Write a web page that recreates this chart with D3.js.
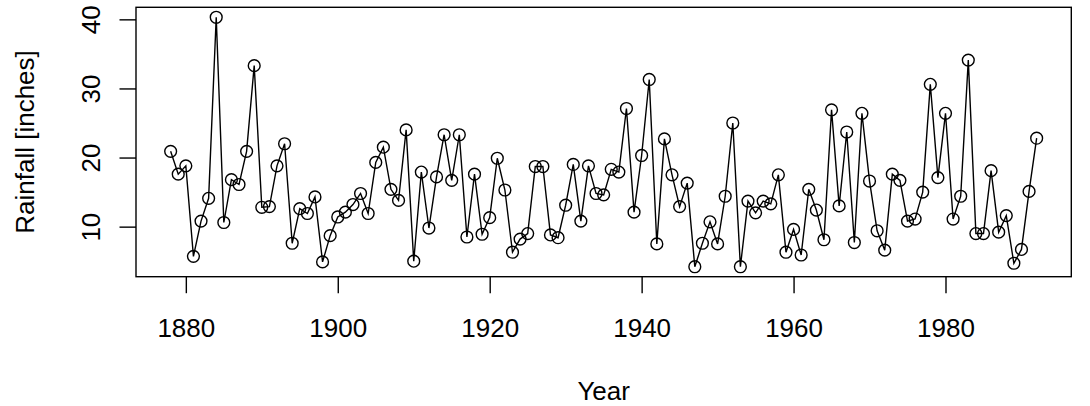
<!DOCTYPE html>
<html>
<head>
<meta charset="utf-8">
<script src="https://cdn.jsdelivr.net/npm/d3@7"></script>
<style>
  html, body { margin: 0; padding: 0; background: #fff; }
  svg { display: block; }
  text { font-family: "Liberation Sans", Arial, sans-serif; fill: #000; }
</style>
</head>
<body>
<script>
// ---- data ----
const startYear = 1878;
const rainfall = [
  20.9, 17.6, 18.8, 5.7, 10.8, 14.1, 40.3, 10.6, 16.8, 16.1,
  20.9, 33.3, 12.8, 12.9, 18.8, 22.0, 7.6, 12.6, 11.9, 14.3,
  4.9, 8.7, 11.4, 12.1, 13.2, 14.8, 11.9, 19.3, 21.5, 15.4,
  13.8, 24.0, 5.0, 17.9, 9.8, 17.2, 23.3, 16.7, 23.3, 8.5,
  17.6, 8.9, 11.3, 19.9, 15.3, 6.3, 8.2, 9.0, 18.7, 18.7,
  8.8, 8.4, 13.1, 19.0, 10.8, 18.8, 14.8, 14.6, 18.3, 17.9,
  27.1, 12.1, 20.3, 31.3, 7.5, 22.7, 17.5, 12.9, 16.3, 4.2,
  7.6, 10.7, 7.5, 14.4, 25.0, 4.2, 13.7, 12.0, 13.7, 13.3,
  17.5, 6.3, 9.6, 5.9, 15.4, 12.4, 8.1, 26.9, 13.0, 23.7,
  7.7, 26.4, 16.6, 9.4, 6.6, 17.6, 16.7, 10.8, 11.1, 15.0,
  30.6, 17.1, 26.4, 11.1, 14.4, 34.1, 9.0, 9.0, 18.1, 9.2,
  11.6, 4.7, 6.7, 15.1, 22.8
];
const years = d3.range(startYear, startYear + rainfall.length);
const xTicks = [1880, 1900, 1920, 1940, 1960, 1980];
const yTicks = [10, 20, 30, 40];
const xLabel = "Year";
const yLabel = "Rainfall [inches]";

// ---- layout ----
const W = 1090, H = 406;
const mLeft = 136, mRight = 1071.3, mTop = 7.3, mBottom = 276.7;
const fontSize = 26;

const svg = d3.select("body").append("svg")
  .attr("width", W).attr("height", H);

function padExtent(ext) {
  const p = (ext[1] - ext[0]) * 0.04;
  return [ext[0] - p, ext[1] + p];
}

const x = d3.scaleLinear().domain(padExtent(d3.extent(years))).range([mLeft, mRight]);
const y = d3.scaleLinear().domain(padExtent(d3.extent(rainfall))).range([mBottom, mTop]);

const data = years.map((yr, i) => ({ year: yr, value: rainfall[i] }));

// line
svg.append("path")
  .datum(data)
  .attr("fill", "none")
  .attr("stroke", "#000")
  .attr("stroke-width", 1.4)
  .attr("d", d3.line().x(d => x(d.year)).y(d => y(d.value)));

// points
svg.append("g").selectAll("circle")
  .data(data).join("circle")
  .attr("cx", d => x(d.year))
  .attr("cy", d => y(d.value))
  .attr("r", 5.9)
  .attr("fill", "none")
  .attr("stroke", "#000")
  .attr("stroke-width", 1.4);

// box
svg.append("rect")
  .attr("x", mLeft).attr("y", mTop)
  .attr("width", mRight - mLeft).attr("height", mBottom - mTop)
  .attr("fill", "none").attr("stroke", "#000").attr("stroke-width", 1.4);

// x axis
const gx = svg.append("g")
  .attr("transform", `translate(0,${mBottom})`)
  .call(d3.axisBottom(x).tickValues(xTicks).tickFormat(d3.format("d")).tickSize(16.5));
gx.select(".domain").remove();
gx.selectAll(".tick line").attr("stroke", "#000").attr("stroke-width", 1.4);
gx.selectAll(".tick text")
  .attr("y", 60).attr("dy", 0)
  .style("font-size", fontSize + "px")
  .style("font-family", '"Liberation Sans", Arial, sans-serif')
  .attr("fill", "#000");

// y axis
const gy = svg.append("g")
  .attr("transform", `translate(${mLeft},0)`)
  .call(d3.axisLeft(y).tickValues(yTicks).tickSize(16.5));
gy.select(".domain").remove();
gy.selectAll(".tick line").attr("stroke", "#000").attr("stroke-width", 1.4);
gy.selectAll(".tick text")
  .attr("x", 0).attr("dy", 0)
  .attr("text-anchor", "middle")
  .attr("transform", "translate(-36,0) rotate(-90)")
  .style("font-size", fontSize + "px")
  .style("font-family", '"Liberation Sans", Arial, sans-serif')
  .attr("fill", "#000");

// axis titles
svg.append("text")
  .attr("x", (mLeft + mRight) / 2).attr("y", 399.5)
  .attr("text-anchor", "middle")
  .style("font-size", fontSize + "px")
  .text(xLabel);

svg.append("text")
  .attr("transform", `translate(33.5,${(mTop + mBottom) / 2}) rotate(-90)`)
  .attr("text-anchor", "middle")
  .style("font-size", fontSize + "px")
  .text(yLabel);
</script>
</body>
</html>
